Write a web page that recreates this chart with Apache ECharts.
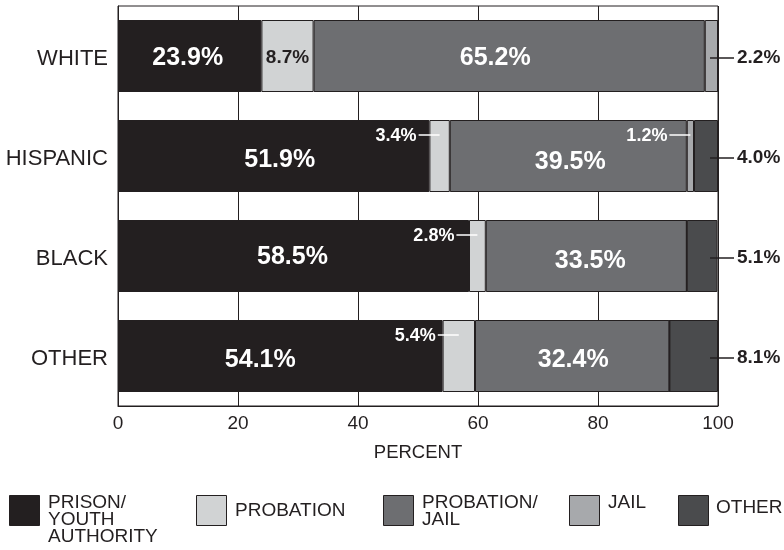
<!DOCTYPE html>
<html>
<head>
<meta charset="utf-8">
<script src="https://cdn.jsdelivr.net/npm/echarts@6/dist/echarts.min.js"></script>
<style>html,body{margin:0;padding:0;background:#fff;}#c{width:784px;height:550px;}</style>
</head>
<body>
<div id="c"></div>
<script>
// ---- data ----
const categories = ['WHITE', 'HISPANIC', 'BLACK', 'OTHER'];
const seriesNames = ['PRISON/YOUTH AUTHORITY', 'PROBATION', 'PROBATION/JAIL', 'JAIL', 'OTHER'];
const legendLabels = ['PRISON/\nYOUTH\nAUTHORITY', 'PROBATION', 'PROBATION/\nJAIL', 'JAIL', 'OTHER'];
const prisonYouth   = [23.9, 51.9, 58.5, 54.1];
const probation     = [8.7, 3.4, 2.8, 5.4];
const probationJail = [65.2, 39.5, 33.5, 32.4];
const jail          = [2.2, 1.2, 0, 0];
const other         = [0, 4.0, 5.1, 8.1];
const xMin = 0, xMax = 100, xStep = 20;

// ---- styles ----
const colors = ['#231f20', '#d1d3d4', '#6d6e71', '#a7a9ac', '#4a4b4d'];
const FONT = '"Liberation Sans", Arial, Helvetica, sans-serif';
const INK = '#231f20';
// label offsets (style) keyed "series,row"
const labelShift = {
  '0,0': [-2, 2], '1,0': [0, 2], '2,0': [-14, 2],
  '0,1': [6, 4], '2,1': [2, 6],
  '0,2': [-1, 1], '2,2': [4, 5],
  '0,3': [-20, 4], '2,3': [1, 4]
};
const legendIconLeft = [9, 196, 383, 569, 678];
const legendIconTop = 495;
const legendTextLeft = [43, 230, 417, 603, 711];
const legendTextTop = [493.5, 501.5, 493.5, 493.5, 498.5];

const values = [prisonYouth, probation, probationJail, jail, other];
const fmt = v => v.toFixed(1) + '%';

// rightmost non-zero segment per row
const rightmost = categories.map((c, i) => {
  let r = 0;
  values.forEach((arr, s) => { if (arr[i] > 0) r = s; });
  return r;
});

const barSeries = values.map((arr, s) => ({
  name: seriesNames[s],
  type: 'bar',
  stack: 'total',
  barCategoryGap: '28%',
  itemStyle: { color: colors[s], borderColor: INK, borderWidth: 1 },
  label: {
    show: false,
    position: 'inside',
    formatter: p => fmt(p.value),
    color: s === 1 ? INK : '#ffffff',
    fontFamily: FONT,
    fontWeight: 'bold',
    fontSize: s === 1 ? 19 : 25
  },
  data: arr.map((v, i) => {
    const inside = (s !== rightmost[i]) && v >= 8;
    const sh = labelShift[s + ',' + i] || [0, 0];
    return { value: v, label: { show: inside, offset: sh } };
  })
}));

// annotations with leader lines
const annData = [];
const annText = [];
categories.forEach((c, i) => {
  let cum = 0;
  values.forEach((arr, s) => {
    const v = arr[i];
    const inside = (s !== rightmost[i]) && v >= 8;
    if (v > 0 && !inside) {
      annData.push([i, cum + v / 2, s === rightmost[i] ? 1 : 0]);
      annText.push(fmt(v));
    }
    cum += v;
  });
});

const annSeries = {
  type: 'custom',
  coordinateSystem: 'cartesian2d',
  encode: { x: 1, y: 0 },
  clip: false,
  z: 10,
  silent: true,
  data: annData,
  renderItem: function (params, api) {
    const row = api.value(0), mid = api.value(1), kind = api.value(2);
    const txt = annText[params.dataIndex];
    const p = api.coord([mid, row]);
    const e = api.coord([xMax, row]);
    if (kind === 1) {
      const y = p[1] + 2;
      return { type: 'group', children: [
        { type: 'line', shape: { x1: e[0] - 8, y1: y, x2: e[0] + 16, y2: y }, style: { stroke: INK, lineWidth: 1.5 } },
        { type: 'text', x: e[0] + 19, y: y, style: { text: txt, fill: INK, fontFamily: FONT, fontWeight: 'bold', fontSize: 19, align: 'left', verticalAlign: 'middle' } }
      ] };
    } else {
      const y = p[1] - 21;
      return { type: 'group', children: [
        { type: 'line', shape: { x1: p[0], y1: y, x2: p[0] - 21, y2: y }, style: { stroke: '#ffffff', lineWidth: 1.5 } },
        { type: 'text', x: p[0] - 23, y: y + 1, style: { text: txt, fill: '#ffffff', fontFamily: FONT, fontWeight: 'bold', fontSize: 18, align: 'right', verticalAlign: 'middle' } }
      ] };
    }
  }
};

// legend: icons and texts as separate legend components
const legendIcons = seriesNames.map((n, s) => ({
  data: [n],
  left: legendIconLeft[s],
  top: legendIconTop,
  padding: 0,
  itemWidth: 30,
  itemHeight: 30,
  icon: 'rect',
  selectedMode: false,
  itemStyle: { borderColor: INK, borderWidth: 1 },
  formatter: () => '',
  textStyle: { fontSize: 1 }
}));
const legendTexts = seriesNames.map((n, s) => ({
  data: [n],
  left: legendTextLeft[s],
  top: legendTextTop[s],
  padding: 0,
  itemWidth: 0,
  itemHeight: 2,
  icon: 'none',
  selectedMode: false,
  formatter: () => legendLabels[s],
  textStyle: { fontFamily: FONT, fontSize: 19, lineHeight: 17, color: INK }
}));

const chart = echarts.init(document.getElementById('c'), null, { renderer: 'canvas' });
chart.setOption({
  animation: false,
  backgroundColor: '#ffffff',
  textStyle: { fontFamily: FONT },
  grid: { left: 118, right: 66, top: 6, bottom: 144, show: true, borderColor: INK, borderWidth: 1, backgroundColor: 'transparent' },
  legend: legendIcons.concat(legendTexts),
  xAxis: {
    type: 'value',
    min: xMin, max: xMax, interval: xStep,
    name: 'PERCENT',
    nameLocation: 'middle',
    nameGap: 37,
    nameTextStyle: { fontFamily: FONT, fontSize: 18.5, color: INK },
    axisLine: { show: true, lineStyle: { color: INK, width: 1 } },
    axisTick: { show: false },
    axisLabel: { fontFamily: FONT, fontSize: 19, color: INK, margin: 8 },
    splitLine: { show: true, lineStyle: { color: INK, width: 1 } }
  },
  yAxis: {
    type: 'category',
    data: categories,
    inverse: true,
    axisLine: { show: true, lineStyle: { color: INK, width: 1 } },
    axisTick: { show: false },
    axisLabel: {
      margin: 10,
      formatter: v => '{c|' + v + '}',
      rich: { c: { fontFamily: FONT, fontSize: 22, color: INK, padding: [6, 0, 0, 0] } }
    },
    splitLine: { show: false }
  },
  series: barSeries.concat([annSeries])
});
</script>
</body>
</html>
